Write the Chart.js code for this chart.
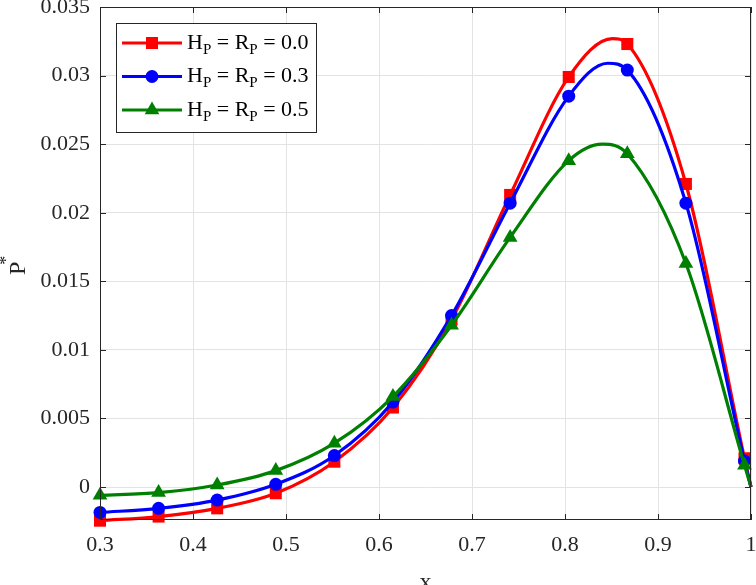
<!DOCTYPE html>
<html>
<head>
<meta charset="utf-8">
<script src="https://cdn.jsdelivr.net/npm/chart.js@4"></script>
<style>
  html, body { margin: 0; padding: 0; background: #fff; }
</style>
</head>
<body>
<canvas id="c" width="756" height="585"></canvas>
<script>
// marker positions along x (every 9th point of the solution grid)
const markerX = [0.3, 0.363, 0.426, 0.489, 0.552, 0.615, 0.678, 0.741, 0.804, 0.867, 0.930, 0.993];
const redMarkers = [-0.00245, -0.00215, -0.00155, -0.00045, 0.00185, 0.0058, 0.0122, 0.0213, 0.0299, 0.0323, 0.0221, 0.0021];
const blueMarkers = [-0.00185, -0.00155, -0.00095, 0.0002, 0.0023, 0.0062, 0.0125, 0.0207, 0.0285, 0.0304, 0.0207, 0.0019];
const greenMarkers = [-0.0006, -0.0004, 0.00015, 0.0012, 0.0032, 0.0066, 0.0118, 0.0182, 0.0238, 0.0243, 0.0163, 0.0016];

// extra points (peak, end of the domain)
const redPeak = [0.851, 0.0327];
const bluePeak = [0.846, 0.0309];
const greenPeak = [0.840, 0.0250];
const curveEnd = [1.0, 0];

const seriesValues = ['0.0', '0.3', '0.5'];
const seriesColors = ['#ff0000', '#0000ff', '#008000'];
const seriesMarkers = ['rect', 'circle', 'triangle'];
const markerSizes = [8.5, 6.5, 8.5];

const xTicks = [0.3, 0.4, 0.5, 0.6, 0.7, 0.8, 0.9, 1];
const xTickLabels = ['0.3', '0.4', '0.5', '0.6', '0.7', '0.8', '0.9', '1'];
const yTicks = [0, 0.005, 0.01, 0.015, 0.02, 0.025, 0.03, 0.035];
const yTickLabels = ['0', '0.005', '0.01', '0.015', '0.02', '0.025', '0.03', '0.035'];

const axisColor = '#262626';
const serif = '"Liberation Serif", "Times New Roman", serif';

function buildPoints(ys, peak) {
    const pts = markerX.map((x, i) => ({ x: x, y: ys[i], marker: true }));
    pts.push({ x: peak[0], y: peak[1], marker: false });
    pts.push({ x: curveEnd[0], y: curveEnd[1], marker: false });
    pts.sort((a, b) => a.x - b.x);
    return pts;
}

const allMarkers = [redMarkers, blueMarkers, greenMarkers];
const allPeaks = [redPeak, bluePeak, greenPeak];

const datasets = seriesValues.map((v, i) => ({
    label: 'HP = RP = ' + v,
    data: buildPoints(allMarkers[i], allPeaks[i]),
    borderColor: seriesColors[i],
    backgroundColor: seriesColors[i],
    borderWidth: 3.2,
    pointStyle: seriesMarkers[i],
    pointRadius: ctx => (ctx.raw && ctx.raw.marker ? markerSizes[i] : 0),
    pointHoverRadius: 0,
    pointBorderWidth: 0,
    cubicInterpolationMode: 'monotone',
    clip: false
}));
// draw green first so red sits on top like the reference
datasets.reverse();

// draw text with a subscript letter
function drawSubText(ctx, parts, x, y, size) {
    parts.forEach(p => {
        if (p.sub) {
            ctx.font = Math.round(size * 0.68) + 'px ' + serif;
            ctx.fillText(p.t, x, y + size * 0.3);
        } else {
            ctx.font = size + 'px ' + serif;
            ctx.fillText(p.t, x, y);
        }
        x += ctx.measureText(p.t).width;
    });
}

const framePlugin = {
    id: 'frame',
    afterDatasetsDraw(chart) {
        const { ctx, chartArea: a, scales } = chart;
        const xs = scales.x, ys = scales.y;
        ctx.save();

        // box and inward ticks
        ctx.strokeStyle = axisColor;
        ctx.lineWidth = 1;
        ctx.strokeRect(a.left + 0.5, a.top + 0.5, a.right - a.left - 1, a.bottom - a.top - 1);
        const len = 6;
        ctx.beginPath();
        xTicks.forEach(v => {
            const px = Math.round(xs.getPixelForValue(v)) + 0.5;
            ctx.moveTo(px, a.bottom); ctx.lineTo(px, a.bottom - len);
            ctx.moveTo(px, a.top); ctx.lineTo(px, a.top + len);
        });
        yTicks.forEach(v => {
            const py = Math.round(ys.getPixelForValue(v)) + 0.5;
            ctx.moveTo(a.left, py); ctx.lineTo(a.left + len, py);
            ctx.moveTo(a.right, py); ctx.lineTo(a.right - len, py);
        });
        ctx.stroke();

        // legend box
        const lx = a.left + 16, ly = a.top + 16, lw = 200, lh = 109;
        ctx.fillStyle = '#fff';
        ctx.fillRect(lx, ly, lw, lh);
        ctx.strokeRect(lx + 0.5, ly + 0.5, lw, lh);
        seriesValues.forEach((v, i) => {
            const ry = ly + 20 + i * 33.5;
            ctx.strokeStyle = seriesColors[i];
            ctx.lineWidth = 3.2;
            ctx.beginPath();
            ctx.moveTo(lx + 6, ry); ctx.lineTo(lx + 66, ry);
            ctx.stroke();
            ctx.fillStyle = seriesColors[i];
            Chart.helpers.drawPoint(ctx, { pointStyle: seriesMarkers[i], radius: markerSizes[i], borderWidth: 0 }, lx + 36, ry);
            ctx.fillStyle = '#000';
            ctx.textBaseline = 'middle';
            ctx.textAlign = 'left';
            drawSubText(ctx, [
                { t: 'H' }, { t: 'P', sub: true }, { t: ' = R' }, { t: 'P', sub: true }, { t: ' = ' + v }
            ], lx + 71, ry, 22);
        });

        // axis titles
        ctx.fillStyle = axisColor;
        ctx.textAlign = 'center';
        ctx.textBaseline = 'alphabetic';
        ctx.font = '24px ' + serif;
        ctx.fillText('x', (a.left + a.right) / 2, 589);

        ctx.translate(25, 275);
        ctx.rotate(-Math.PI / 2);
        ctx.textAlign = 'left';
        ctx.font = '24px ' + serif;
        ctx.fillText('P', 0, 0);
        const pw = ctx.measureText('P').width;
        ctx.font = '18px ' + serif;
        ctx.fillText('*', pw - 3, -13);
        ctx.restore();
    }
};

new Chart(document.getElementById('c'), {
    type: 'line',
    data: { datasets: datasets },
    options: {
        responsive: false,
        animation: false,
        devicePixelRatio: 1,
        layout: { autoPadding: false, padding: { top: 7, right: 5, left: 0, bottom: 0 } },
        plugins: {
            legend: { display: false },
            tooltip: { enabled: false }
        },
        scales: {
            x: {
                type: 'linear',
                min: 0.3,
                max: 1,
                afterFit: s => { s.height = 65; s.paddingLeft = 0; s.paddingRight = 0; },
                afterBuildTicks: s => { s.ticks = xTicks.map(v => ({ value: v })); },
                border: { display: false },
                grid: { color: '#e3e3e3', lineWidth: 1, drawTicks: false },
                ticks: {
                    padding: 12,
                    color: axisColor,
                    font: { family: serif, size: 22 },
                    callback: (v) => xTickLabels[xTicks.findIndex(t => Math.abs(t - v) < 1e-9)]
                }
            },
            y: {
                type: 'linear',
                min: -0.0024,
                max: 0.035,
                afterFit: s => { s.width = 100; s.paddingTop = 0; s.paddingBottom = 0; },
                afterBuildTicks: s => { s.ticks = yTicks.map(v => ({ value: v })); },
                border: { display: false },
                grid: { color: '#e3e3e3', lineWidth: 1, drawTicks: false },
                ticks: {
                    padding: 10,
                    color: axisColor,
                    font: { family: serif, size: 22 },
                    callback: (v) => yTickLabels[yTicks.findIndex(t => Math.abs(t - v) < 1e-9)]
                }
            }
        }
    },
    plugins: [framePlugin]
});
</script>
</body>
</html>
